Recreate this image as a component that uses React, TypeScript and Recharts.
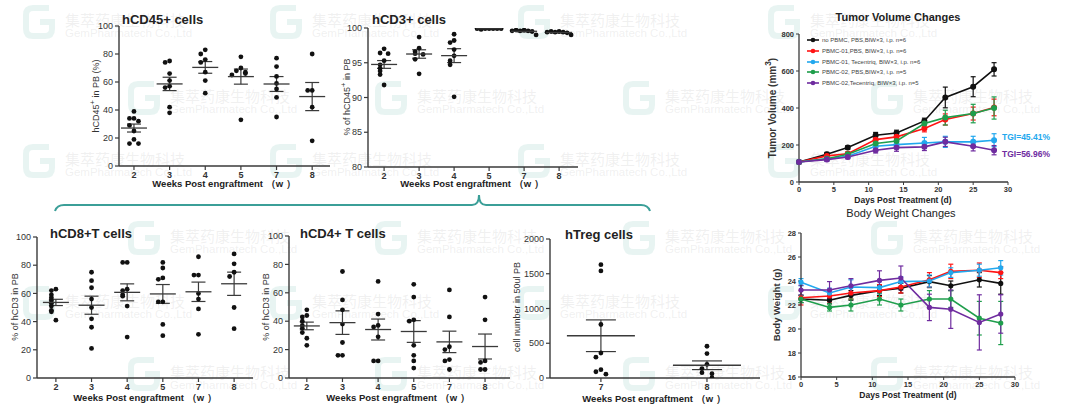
import React from "react";
import { ScatterChart, Scatter, LineChart, Line, XAxis, YAxis, ErrorBar } from "recharts";

const FONT = '"Liberation Sans", Arial, Helvetica, sans-serif';
const AX = "#3a3a3a";

// ---- dot plots: one inner array per week ----
const weekLabels = ["2", "3", "4", "5", "7", "8"];
const hcd45 = [
  [39, 34, 34, 32, 29, 25, 19, 16, 16],
  [75, 74, 66, 61, 57, 56, 42, 38],
  [83, 80, 76, 74, 67, 61, 52],
  [78, 70, 68, 67, 66, 65, 33],
  [77, 71, 64, 59, 55, 49, 35],
  [80, 54, 54, 42, 18],
];
const hcd3 = [
  [97, 96.4, 96.3, 95.3, 94.7, 94.2, 93.8, 93.3, 91.8],
  [98.7, 97.1, 96.6, 96.3, 96.2, 95.5, 93.4],
  [99.1, 98.2, 97.9, 96.9, 96, 95.3, 94.7, 90.1],
  [99.9, 99.9, 99.9, 99.8, 99.9, 99.9, 99.9],
  [99.7, 99.6, 99.6, 99.7, 99.5, 99.6, 99.0],
  [99.5, 99.4, 99.4, 99.5, 99.3, 99.4, 99.0],
];
const hcd8 = [
  [63, 62, 59, 57, 55, 53, 51, 48, 47, 41],
  [75, 69, 64, 56, 50, 42, 36, 21],
  [82, 82, 63, 62, 59, 58, 51, 29],
  [82, 78, 71, 70, 54, 54, 38, 30],
  [86, 73, 73, 60, 56, 49, 31],
  [88, 81, 75, 72, 50, 35],
];
const hcd4 = [
  [48, 44, 43, 40, 37, 35, 32, 28, 23],
  [75, 55, 48, 38, 25, 16, 16],
  [68, 45, 37, 36, 29, 12, 12],
  [66, 57, 41, 40, 23, 16, 12, 7],
  [62, 43, 22, 20, 13, 12, 6],
  [57, 41, 12, 11, 6, 6],
];
const tregLabels = ["7", "8"];
const treg = [
  [1630, 1540, 770, 360, 300, 120, 90, 55],
  [457, 351, 197, 135, 77, 62, 5],
];

// ---- tumor volume (mm3) ----
const days = [0, 4, 7, 11, 14, 18, 21, 25, 28];
const tvNoPbmc = [108, 150, 186, 253, 265, 330, 457, 515, 609];
const tvNoPbmcSem = [8, 10, 10, 15, 15, 15, 56, 54, 36];
const tvP1Pbs = [108, 141, 153, 229, 244, 289, 338, 370, 403];
const tvP1PbsSem = [8, 10, 10, 15, 15, 18, 30, 35, 45];
const tvP1Tec = [108, 126, 139, 193, 202, 211, 217, 217, 226];
const tvP1TecSem = [8, 10, 10, 18, 20, 30, 30, 30, 35];
const tvP2Pbs = [108, 126, 150, 208, 222, 316, 348, 370, 400];
const tvP2PbsSem = [8, 10, 10, 15, 15, 20, 40, 50, 60];
const tvP2Tec = [108, 121, 135, 172, 186, 190, 217, 193, 172];
const tvP2TecSem = [8, 10, 10, 15, 20, 20, 25, 25, 25];

// ---- body weight (g) ----
const bwNoPbmc = [22.5, 22.4, 22.8, 23.2, 23.4, 23.95, 23.6, 24.1, 23.8];
const bwNoPbmcSem = [0.3, 0.3, 0.4, 0.4, 0.4, 0.5, 0.4, 0.6, 0.9];
const bwP1Pbs = [22.6, 22.75, 23.0, 23.2, 23.5, 24.1, 24.8, 24.9, 24.7];
const bwP1PbsSem = [0.6, 0.5, 0.5, 0.5, 0.5, 0.6, 0.6, 0.6, 0.5];
const bwP1Tec = [23.9, 23.0, 23.5, 23.45, 23.95, 24.0, 24.7, 24.9, 25.1];
const bwP1TecSem = [0.3, 0.4, 0.6, 0.5, 0.4, 0.5, 0.4, 0.5, 0.6];
const bwP2Pbs = [22.5, 21.8, 22.0, 22.5, 22.0, 22.5, 22.5, 20.9, 20.5];
const bwP2PbsSem = [0.3, 0.3, 0.5, 0.5, 0.5, 0.7, 0.7, 1.4, 1.8];
const bwP2Tec = [23.25, 23.25, 23.6, 24.05, 24.25, 21.8, 21.65, 20.55, 21.25];
const bwP2TecSem = [0.4, 0.7, 0.6, 0.8, 1.0, 1.1, 1.6, 2.3, 1.6];

const groupNames = [
  "no PBMC, PBS,BIW×3, i.p. n=6",
  "PBMC-01,PBS, BIW×3, i.p. n=6",
  "PBMC-01, Tecentriq, BIW×3, i.p. n=6",
  "PBMC-02, PBS,BIW×3, i.p. n=5",
  "PBMC-02,Tecentriq, BIW×3, i.p. n=5",
];
const groupColors = ["#111111", "#ff1414", "#22a8ee", "#1f9e4c", "#6f2c9f"];
const groupKeys = ["noPbmc", "p1Pbs", "p1Tec", "p2Pbs", "p2Tec"];

const tumorRows = days.map((d, i) => ({
  day: d,
  noPbmc: tvNoPbmc[i], noPbmcSem: tvNoPbmcSem[i],
  p1Pbs: tvP1Pbs[i], p1PbsSem: tvP1PbsSem[i],
  p1Tec: tvP1Tec[i], p1TecSem: tvP1TecSem[i],
  p2Pbs: tvP2Pbs[i], p2PbsSem: tvP2PbsSem[i],
  p2Tec: tvP2Tec[i], p2TecSem: tvP2TecSem[i],
}));
const weightRows = days.map((d, i) => ({
  day: d,
  noPbmc: bwNoPbmc[i], noPbmcSem: bwNoPbmcSem[i],
  p1Pbs: bwP1Pbs[i], p1PbsSem: bwP1PbsSem[i],
  p1Tec: bwP1Tec[i], p1TecSem: bwP1TecSem[i],
  p2Pbs: bwP2Pbs[i], p2PbsSem: bwP2PbsSem[i],
  p2Tec: bwP2Tec[i], p2TecSem: bwP2TecSem[i],
}));

// beeswarm-ish spreading: close values get pushed left/right
function buildPoints(groups: number[][], close: number) {
  const pts: any[] = [];
  const means: any[] = [];
  groups.forEach((vals, i) => {
    const placed: number[] = [];
    vals.forEach((v) => {
      const c = placed.filter((p) => Math.abs(p - v) < close).length;
      const slot = c === 0 ? 0 : c % 2 === 1 ? -Math.ceil(c / 2) : Math.ceil(c / 2);
      placed.push(v);
      pts.push({ x: i, y: v, slot });
    });
    const n = vals.length;
    const m = vals.reduce((a, b) => a + b, 0) / n;
    const sd = Math.sqrt(vals.reduce((a, b) => a + (b - m) * (b - m), 0) / (n - 1));
    means.push({ x: i, y: m, sem: sd / Math.sqrt(n) });
  });
  return { pts, means };
}

const tickText = { fontSize: 9, fill: "#333", fontFamily: FONT };

function DotPanel(props: any) {
  const { groups, labels, plot, xDomain, yDomain, yTicks, meanHalf, capHalf, step } = props;
  const YW = 32, XH = 18, PT = 8, PR = 4;
  const [x0, y0, x1, y1] = plot;
  const width = x1 - x0 + YW + PR;
  const height = y1 - y0 + PT + XH;
  const close = ((yDomain[1] - yDomain[0]) * 5.5) / (y1 - y0);
  const { pts, means } = buildPoints(groups, close);
  return (
    <div style={{ position: "absolute", left: x0 - YW, top: y0 - PT }}>
      <ScatterChart width={width} height={height} margin={{ top: PT, right: PR, bottom: 0, left: 0 }}>
        <XAxis
          type="number" dataKey="x" domain={xDomain} allowDataOverflow
          ticks={labels.map((_: string, i: number) => i)} interval={0}
          tickFormatter={(i: number) => labels[i]}
          height={XH} tickSize={4}
          axisLine={{ stroke: AX, strokeWidth: 1.4 }} tickLine={{ stroke: AX, strokeWidth: 1.2 }}
          tick={{ ...tickText, fontWeight: "bold" }}
        />
        <YAxis
          type="number" dataKey="y" domain={yDomain} allowDataOverflow ticks={yTicks} interval={0}
          width={YW} tickSize={4}
          axisLine={{ stroke: AX, strokeWidth: 1.4 }} tickLine={{ stroke: AX, strokeWidth: 1.2 }}
          tick={tickText}
        />
        <Scatter
          data={pts} isAnimationActive={false}
          shape={(p: any) => <circle cx={p.cx + p.payload.slot * step} cy={p.cy} r={2.4} fill="#111" />}
        />
        <Scatter
          data={means} isAnimationActive={false}
          shape={(p: any) => (
            <line x1={p.cx - meanHalf} x2={p.cx + meanHalf} y1={p.cy} y2={p.cy} stroke={AX} strokeWidth={1.3} />
          )}
        >
          <ErrorBar dataKey="sem" direction="y" width={capHalf} stroke={AX} strokeWidth={1.2} />
        </Scatter>
      </ScatterChart>
    </div>
  );
}

function Text(props: any) {
  const { x, y, size, bold, anchor, color, children } = props;
  const tx = anchor === "middle" ? "-50%" : "0";
  return (
    <div
      style={{
        position: "absolute", left: x, top: y, transform: `translate(${tx}, -50%)`,
        fontFamily: FONT, fontSize: size, fontWeight: bold ? "bold" : "normal",
        color: color || "#222", whiteSpace: "nowrap", lineHeight: 1,
      }}
    >
      {children}
    </div>
  );
}

function VText(props: any) {
  const { x, y, size, bold, children } = props;
  return (
    <div
      style={{
        position: "absolute", left: x, top: y, transform: "translate(-50%, -50%) rotate(-90deg)",
        fontFamily: FONT, fontSize: size, fontWeight: bold ? "bold" : "normal",
        color: "#333", whiteSpace: "nowrap", lineHeight: 1,
      }}
    >
      {children}
    </div>
  );
}

function TimePanel(props: any) {
  const { rows, plot, yDomain, yTicks, dotR } = props;
  const YW = 26, XH = 16, PT = 6, PR = 8;
  const [x0, y0, x1, y1] = plot;
  const small = { fontSize: 7.5, fill: "#333", fontFamily: FONT, fontWeight: "bold" };
  return (
    <div style={{ position: "absolute", left: x0 - YW, top: y0 - PT }}>
      <LineChart width={x1 - x0 + YW + PR} height={y1 - y0 + PT + XH} data={rows}
        margin={{ top: PT, right: PR, bottom: 0, left: 0 }}>
        <XAxis type="number" dataKey="day" domain={[0, 30]} ticks={[0, 5, 10, 15, 20, 25, 30]} interval={0}
          height={XH} tickSize={3} axisLine={{ stroke: AX, strokeWidth: 1.3 }} tickLine={{ stroke: AX }} tick={small} />
        <YAxis type="number" domain={yDomain} ticks={yTicks} interval={0} allowDataOverflow width={YW} tickSize={3}
          axisLine={{ stroke: AX, strokeWidth: 1.3 }} tickLine={{ stroke: AX }} tick={small} />
        {groupKeys.map((k, i) => (
          <Line key={k} dataKey={k} stroke={groupColors[i]} strokeWidth={1.6} isAnimationActive={false}
            dot={{ r: dotR, fill: groupColors[i], stroke: groupColors[i] }}>
            <ErrorBar dataKey={k + "Sem"} direction="y" width={2.5} stroke={groupColors[i]} strokeWidth={1.2} />
          </Line>
        ))}
      </LineChart>
    </div>
  );
}

const wmRowsA = [21, 160, 302];
const wmRowsB = [97, 237, 373];
const wmColsA = [65, 312, 560, 810];
const wmColsB = [170, 417, 665, 913];

function Watermark({ x, y }: { x: number; y: number }) {
  return (
    <>
      <svg style={{ position: "absolute", left: x - 44, top: y - 19 }} width={36} height={40}>
        <path d="M28 6 H12 Q5 6 5 13 V27 Q5 34 12 34 H24 Q31 34 31 27 V20 H19"
          fill="none" stroke="rgba(140,200,190,0.2)" strokeWidth={6} />
      </svg>
      <div style={{ position: "absolute", left: x, top: y - 9, fontFamily: '"Noto Sans CJK SC", sans-serif', fontSize: 15,
        color: "rgba(160,160,160,0.17)", whiteSpace: "nowrap", lineHeight: 1 }}>集萃药康生物科技</div>
      <div style={{ position: "absolute", left: x, top: y + 7, fontFamily: FONT, fontSize: 11.5,
        color: "rgba(160,160,160,0.17)", whiteSpace: "nowrap", lineHeight: 1 }}>GemPharmatech Co.,Ltd</div>
    </>
  );
}

export default function App() {
  const xLab = <>Weeks Post engraftment （w ）</>;
  return (
    <div style={{ position: "absolute", left: 0, top: 0, width: 1080, height: 414, background: "#fff", overflow: "hidden" }}>
      {wmRowsA.map((y) => wmColsA.map((x) => <Watermark key={`a${x}-${y}`} x={x} y={y} />))}
      {wmRowsB.map((y) => wmColsB.map((x) => <Watermark key={`b${x}-${y}`} x={x} y={y} />))}

      {/* hCD45+ */}
      <DotPanel groups={hcd45} labels={weekLabels} plot={[119, 26, 330, 166]} xDomain={[-0.42, 5.5]}
        yDomain={[0, 100]} yTicks={[0, 20, 40, 60, 80, 100]} meanHalf={13} capHalf={7} step={4.5} />
      <Text x={122} y={19} size={13} bold>hCD45+ cells</Text>
      <Text x={224} y={184} size={9.5} bold anchor="middle">{xLab}</Text>
      <VText x={95} y={96} size={9}>hCD45<sup>+</sup> in PB (%)</VText>

      {/* hCD3+ */}
      <DotPanel groups={hcd3} labels={weekLabels} plot={[368, 28, 578, 167]} xDomain={[-0.46, 5.54]}
        yDomain={[80, 100]} yTicks={[80, 85, 90, 95, 100]} meanHalf={13} capHalf={7} step={4} />
      <Text x={372} y={19} size={13} bold>hCD3+ cells</Text>
      <Text x={472} y={184} size={9.5} bold anchor="middle">{xLab}</Text>
      <VText x={346} y={97} size={9}>% of hCD45<sup>+</sup> in PB</VText>

      {/* bracket */}
      <svg style={{ position: "absolute", left: 0, top: 0 }} width={1080} height={414}>
        <path d="M55 211 Q57 205 64 205 L472 205 Q479 205 479 195 Q479 205 486 205 L641 205 Q648 205 650 211"
          fill="none" stroke="#3b9f98" strokeWidth={2} />
      </svg>

      {/* hCD8+ */}
      <DotPanel groups={hcd8} labels={weekLabels} plot={[37, 237, 253, 378]} xDomain={[-0.53, 5.53]}
        yDomain={[0, 100]} yTicks={[0, 20, 40, 60, 80, 100]} meanHalf={13} capHalf={7} step={4.5} />
      <Text x={50} y={233} size={13} bold>hCD8+T cells</Text>
      <Text x={145} y={398} size={9.5} bold anchor="middle">{xLab}</Text>
      <VText x={15} y={307} size={9}>% of hCD3 in PB</VText>

      {/* hCD4+ */}
      <DotPanel groups={hcd4} labels={weekLabels} plot={[289, 236, 510, 378]} xDomain={[-0.5, 5.7]}
        yDomain={[0, 100]} yTicks={[0, 20, 40, 60, 80, 100]} meanHalf={13} capHalf={7} step={4.5} />
      <Text x={300} y={233} size={13} bold>hCD4+ T cells</Text>
      <Text x={398} y={398} size={9.5} bold anchor="middle">{xLab}</Text>
      <VText x={266} y={307} size={9}>% of hCD3 in PB</VText>

      {/* hTreg */}
      <DotPanel groups={treg} labels={tregLabels} plot={[550, 239, 760, 378]} xDomain={[-0.48, 1.5]}
        yDomain={[0, 2000]} yTicks={[0, 500, 1000, 1500, 2000]} meanHalf={34} capHalf={15} step={5} />
      <Text x={565} y={234} size={13} bold>hTreg cells</Text>
      <Text x={654} y={399} size={9.5} bold anchor="middle">{xLab}</Text>
      <VText x={517} y={307} size={9}>cell number in 50ul PB</VText>

      {/* tumor volume */}
      <TimePanel rows={tumorRows} plot={[799, 34, 1008, 182]} yDomain={[0, 800]} yTicks={[0, 200, 400, 600, 800]} dotR={2.2} />
      <Text x={898} y={17} size={11} bold anchor="middle">Tumor Volume Changes</Text>
      <Text x={903} y={200} size={8.5} bold anchor="middle">Days Post Treatment (d)</Text>
      <VText x={771} y={108} size={10} bold>Tumor Volume (mm<sup>3</sup>)</VText>
      {groupNames.map((g, i) => (
        <div key={g} style={{ position: "absolute", left: 806, top: 40 + i * 10.8, transform: "translateY(-50%)", display: "flex", alignItems: "center" }}>
          <svg width={14} height={6}>
            <line x1={1} x2={13} y1={3} y2={3} stroke={groupColors[i]} strokeWidth={1.6} />
            <circle cx={7} cy={3} r={2.3} fill={groupColors[i]} />
          </svg>
          <span style={{ fontFamily: FONT, fontSize: 6, color: "#444", marginLeft: 2, whiteSpace: "nowrap" }}>{g}</span>
        </div>
      ))}
      <Text x={1002} y={137} size={8.5} bold color="#22a8ee">TGI=45.41%</Text>
      <Text x={1002} y={154} size={8.5} bold color="#6f2c9f">TGI=56.96%</Text>

      {/* body weight */}
      <TimePanel rows={weightRows} plot={[801, 233, 1015, 377]} yDomain={[16, 28]} yTicks={[16, 18, 20, 22, 24, 26, 28]} dotR={1.8} />
      <Text x={901} y={213} size={11} anchor="middle">Body Weight Changes</Text>
      <Text x={908} y={395} size={8.5} bold anchor="middle">Days Post Treatment (d)</Text>
      <VText x={777} y={305} size={9.5} bold>Body Weight (g)</VText>
    </div>
  );
}
